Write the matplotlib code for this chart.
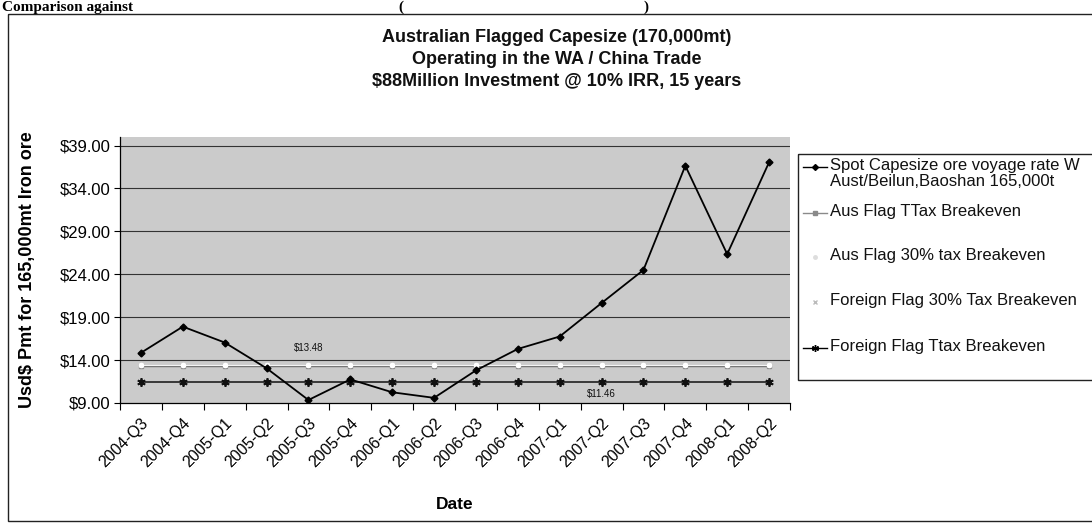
import matplotlib
matplotlib.use("Agg")
import matplotlib.pyplot as plt
from matplotlib.patches import Rectangle
from matplotlib.lines import Line2D
import numpy as np

plt.rcParams['font.family'] = ['Liberation Sans', 'DejaVu Sans']

# ---------------- data ----------------
categories = ['2004-Q3', '2004-Q4', '2005-Q1', '2005-Q2', '2005-Q3', '2005-Q4',
              '2006-Q1', '2006-Q2', '2006-Q3', '2006-Q4', '2007-Q1', '2007-Q2',
              '2007-Q3', '2007-Q4', '2008-Q1', '2008-Q2']
spot_rate = [14.85, 17.9, 16.05, 13.05, 9.35, 11.75, 10.25, 9.6,
             12.8, 15.3, 16.75, 20.65, 24.5, 36.65, 26.35, 37.05]
aus_ttax = [13.30] * 16
aus_30tax = [13.48] * 16
foreign_30tax = [13.42] * 16
foreign_ttax = [11.46] * 16

series_labels = ['Spot Capesize ore voyage rate W\nAust/Beilun,Baoshan 165,000t',
                 'Aus Flag TTax Breakeven',
                 'Aus Flag 30% tax Breakeven',
                 'Foreign Flag 30% Tax Breakeven',
                 'Foreign Flag Ttax Breakeven']
yticks = [9, 14, 19, 24, 29, 34, 39]
ytick_labels = ['$9.00', '$14.00', '$19.00', '$24.00', '$29.00', '$34.00', '$39.00']
title_lines = ['Australian Flagged Capesize (170,000mt)',
               'Operating in the WA / China Trade',
               '$88Million Investment @ 10% IRR, 15 years']

# ---------------- figure ----------------
W, H = 1092, 523
fig = plt.figure(figsize=(W / 100, H / 100), dpi=100)
fig.patch.set_facecolor('white')

# overlay in pixel coordinates for the chart frame, legend, titles
ov = fig.add_axes([0, 0, 1, 1], zorder=0)
ov.set_xlim(0, W)
ov.set_ylim(H, 0)
ov.axis('off')

# chart border
ov.add_patch(Rectangle((8, 14), 1120, 507, fill=False, edgecolor='#222222', lw=1.0))

# heading at top (partly hidden in the reference)
ov.text(2, 1, 'Comparison against', family='Liberation Serif', fontweight='bold',
        fontsize=11, va='top', ha='left', color='black')
ov.text(398, 1, '(', family='Liberation Serif', fontweight='bold', fontsize=11,
        va='top', ha='left')
ov.text(644, 1, ')', family='Liberation Serif', fontweight='bold', fontsize=11,
        va='top', ha='left')

# title
for i, t in enumerate(title_lines):
    ov.text(557, 38 + 22 * i, t, ha='center', va='center', fontsize=13,
            fontweight='bold', color='#111111')

# ---------------- plot area ----------------
left, right, top, bottom = 120, 790, 137, 403
ax = fig.add_axes([left / W, 1 - bottom / H, (right - left) / W, (bottom - top) / H], zorder=2)
ax.set_facecolor('#cbcbcb')
x = np.arange(len(categories))

ax.set_xlim(-0.5, len(categories) - 0.5)
ax.set_ylim(9, 40)
ax.set_yticks(yticks)
ax.set_yticklabels(ytick_labels, fontsize=12)
for yv in yticks[1:]:
    ax.axhline(yv, color='#333333', lw=0.8, zorder=1)

ax.set_xticks(x)
ax.set_xticklabels(categories, rotation=45, ha='right', va='top',
                   rotation_mode='anchor', fontsize=11.5)
ax.tick_params(axis='x', which='major', length=0, pad=9)
ax.set_xticks(np.arange(-0.5, len(categories)), minor=True)
ax.tick_params(axis='x', which='minor', length=5, direction='out', width=0.8)
ax.tick_params(axis='y', length=4, direction='out', width=0.8, pad=3)

for s in ['top', 'right']:
    ax.spines[s].set_visible(False)
ax.spines['left'].set_linewidth(0.9)
ax.spines['bottom'].set_linewidth(0.9)

ax.plot(x, aus_ttax, color='#6a6a6a', lw=1.0, marker='s', ms=2.5,
        mfc='#8a8a8a', mec='#8a8a8a', zorder=3)
ax.plot(x, foreign_30tax, color='#e4e4e4', lw=0.8, marker='x', ms=3,
        mec='#eeeeee', zorder=3)
ax.plot(x, aus_30tax, color='#f4f4f4', lw=0.8, marker='o', ms=3,
        mfc='white', mec='white', zorder=4)
ax.plot(x, foreign_ttax, color='#111111', lw=1.1, marker=(6, 2, 0), ms=6,
        mew=1.3, mec='#111111', zorder=4)
ax.plot(x, spot_rate, color='black', lw=1.3, marker='D', ms=3.5,
        mfc='black', mec='black', zorder=5)

ax.annotate('$13.48', (4, aus_30tax[4]), xytext=(0, 12), textcoords='offset points',
            ha='center', va='center', fontsize=7, color='#111111')
ax.annotate('$11.46', (11, foreign_ttax[11]), xytext=(0, -9), textcoords='offset points',
            ha='center', va='center', fontsize=7, color='#111111')

ax.set_xlabel('Date', fontsize=12.5, fontweight='bold')
ax.set_ylabel('Usd$ Pmt for 165,000mt Iron ore', fontsize=13, fontweight='bold')
ax.xaxis.set_label_coords(0.5, -0.355)
ax.yaxis.set_label_coords(-0.125, 0.5)

# ---------------- legend (manual) ----------------
ov.add_patch(Rectangle((798, 154), 400, 226, fill=False, edgecolor='#222222', lw=1.0))
leg_y = [167, 213, 257, 302, 348]
line_cols = ['black', '#8a8a8a', 'white', 'white', 'black']
marker_styles = [dict(marker='D', ms=3, mfc='black', mec='black'),
                 dict(marker='s', ms=3, mfc='#8a8a8a', mec='#8a8a8a'),
                 dict(marker='o', ms=2.5, mfc='#dddddd', mec='#dddddd'),
                 dict(marker='x', ms=3, mec='#bbbbbb'),
                 dict(marker=(6, 2, 0), ms=5, mec='black', mew=1.0)]
for yy, lab, lc, ms in zip(leg_y, series_labels, line_cols, marker_styles):
    ov.add_line(Line2D([803, 827], [yy, yy], color=lc, lw=1.0))
    ov.add_line(Line2D([815], [yy], linestyle='none', **ms))
    ov.text(830, yy - 9, lab, ha='left', va='top', fontsize=12, linespacing=1.05,
            color='#111111')

fig.savefig('out.png', dpi=100)
